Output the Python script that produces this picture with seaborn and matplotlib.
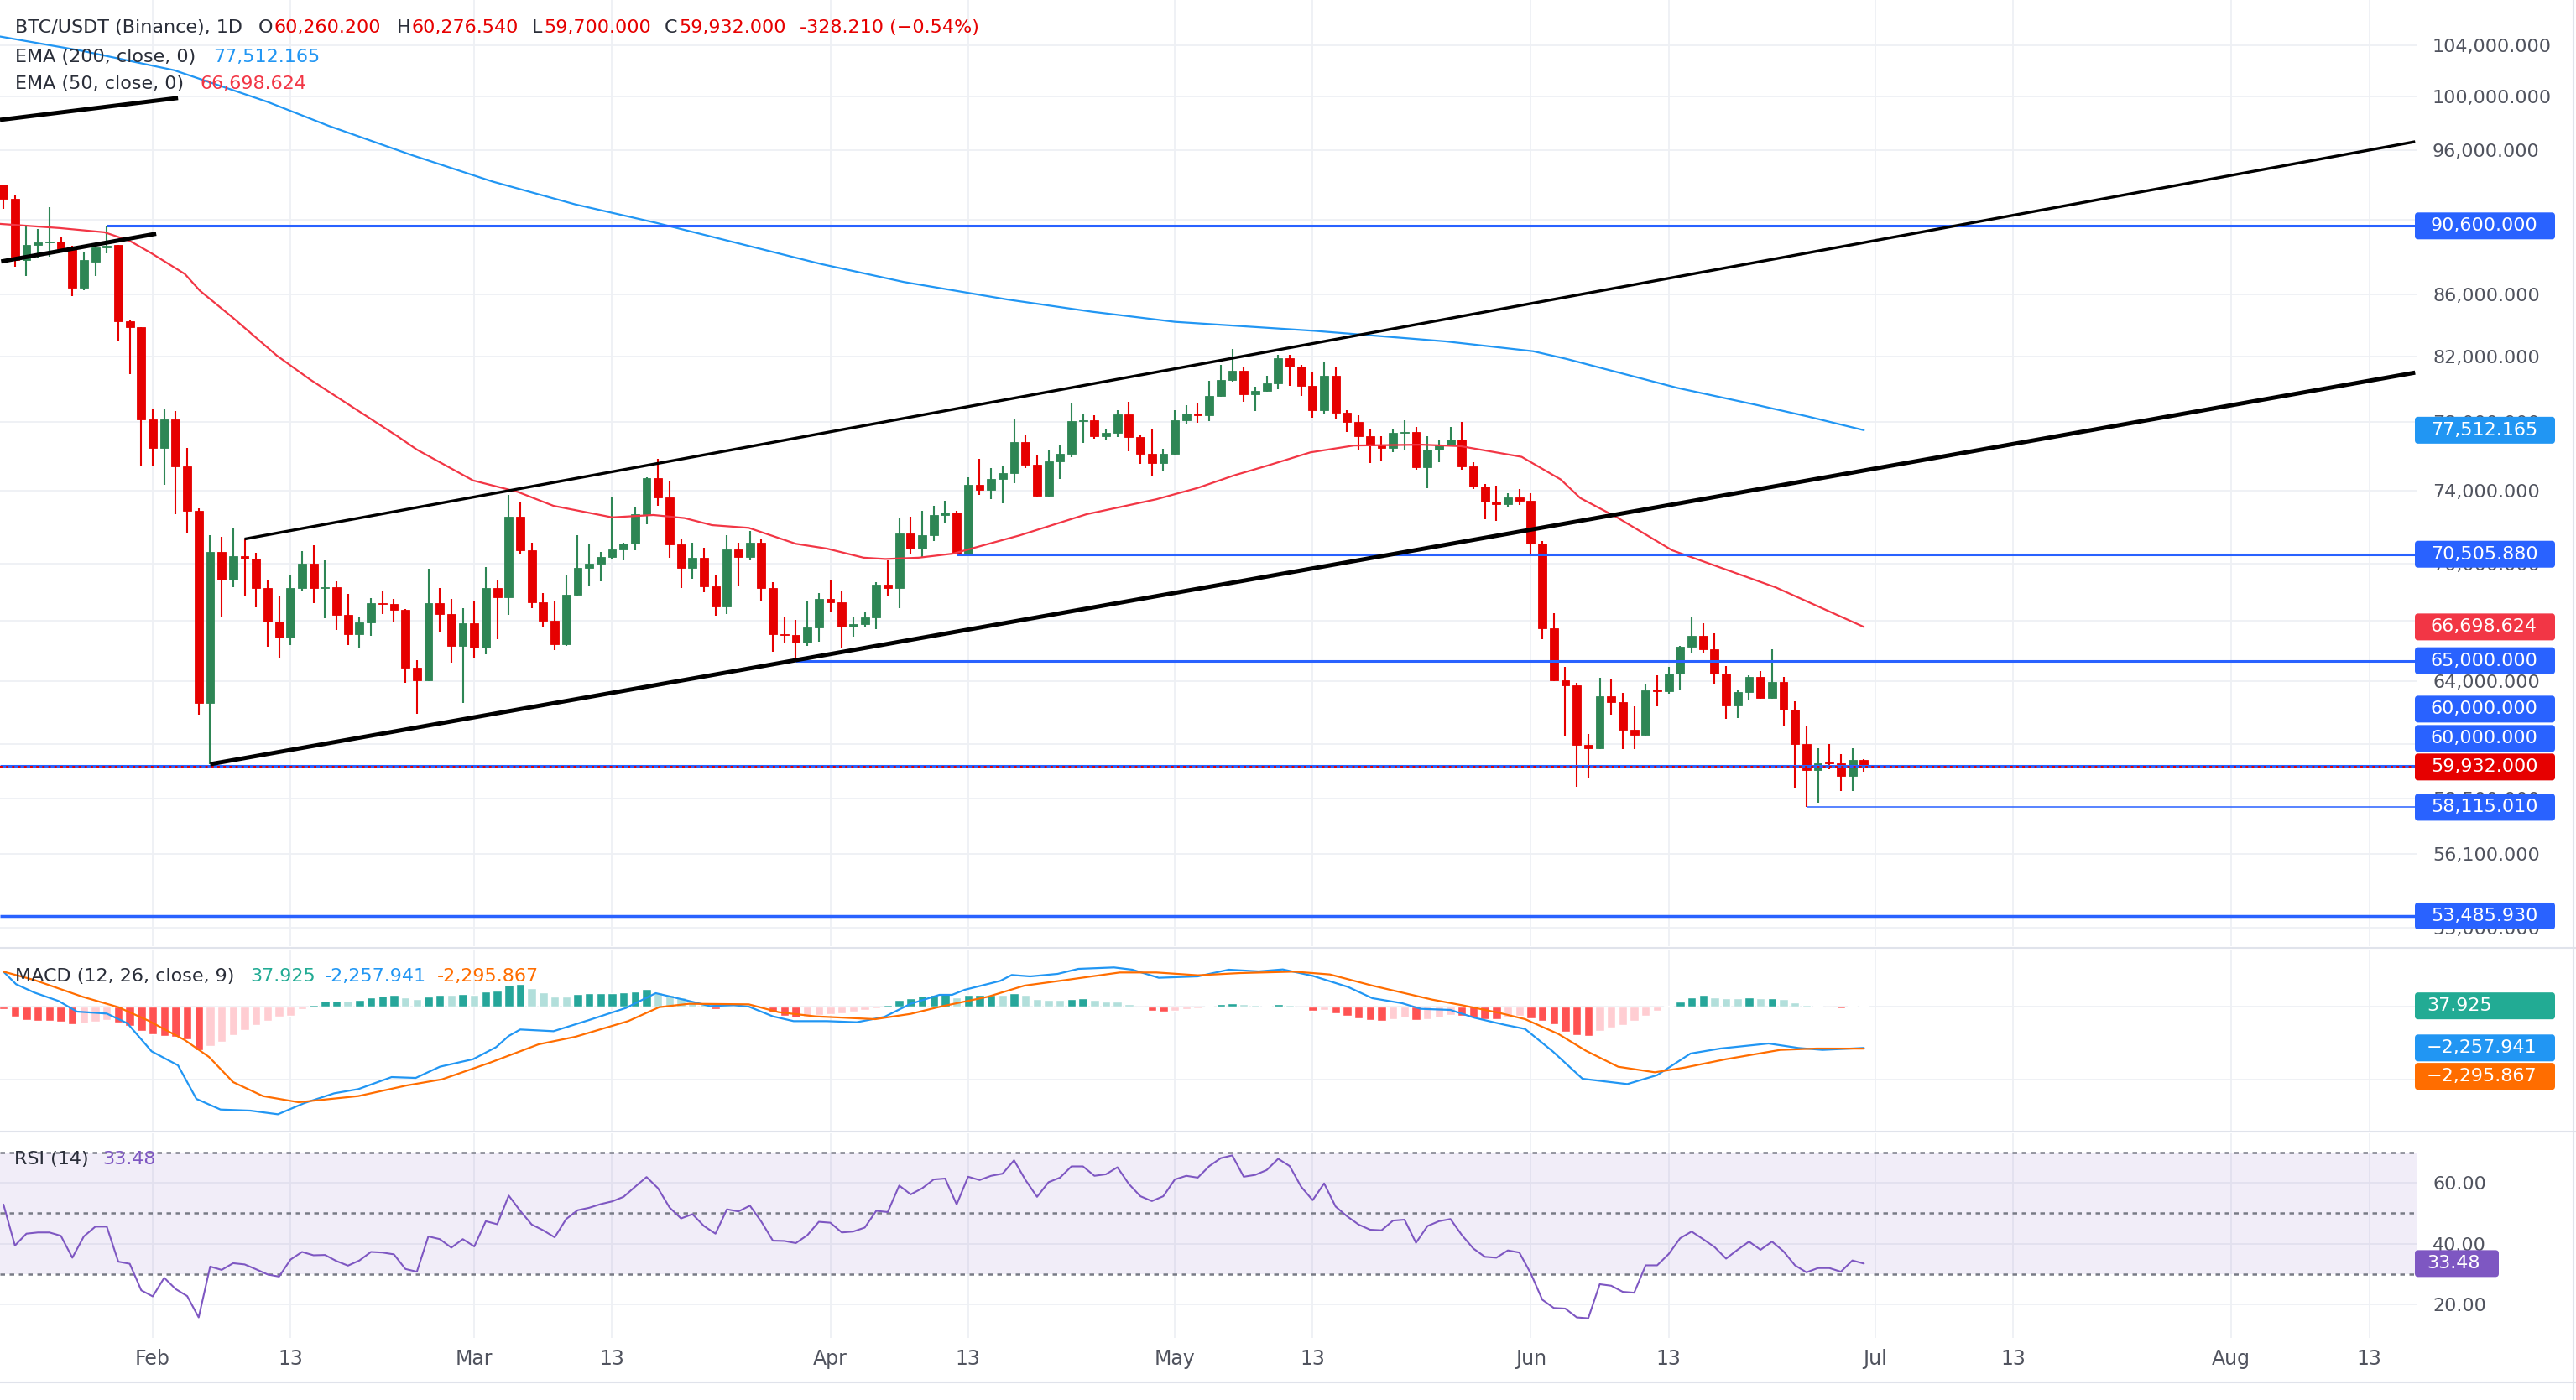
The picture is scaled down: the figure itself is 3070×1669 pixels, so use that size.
import numpy as np
import pandas as pd
import matplotlib
matplotlib.use("Agg")
import matplotlib.pyplot as plt
import seaborn as sns
from matplotlib.patches import FancyBboxPatch
from matplotlib.lines import Line2D
from matplotlib.transforms import IdentityTransform
from matplotlib.ticker import NullLocator

# daily BTC/USDT candles, 2026-01-19 .. 2026-06-30 (day index 0..162)
opens = [93520, 92490, 88260, 89300, 89440, 89500, 89100, 86420, 88170, 89100,
         89270, 84230, 83860, 78150, 76460, 78150, 75380, 72900, 62920, 70650,
         69130, 70390, 70250, 68700, 66960, 66180, 68700, 69990, 68700, 68770,
         67310, 66330, 66920, 67910, 67880, 67560, 64650, 64030, 67910, 67370,
         65750, 66880, 65670, 68720, 68220, 72560, 70740, 67960, 67000, 65830,
         68340, 69790, 70010, 70360, 70750, 71070, 72680, 74730, 73610, 71050,
         69760, 70330, 68800, 67740, 70770, 70350, 71150, 68700, 66320, 66300,
         65910, 66680, 68140, 67960, 66730, 66840, 67180, 68890, 68700, 71640,
         70830, 71550, 72670, 72780, 70560, 74350, 74080, 74700, 75000, 76820,
         75500, 73740, 75690, 76110, 78030, 78100, 77170, 77370, 78450, 77130,
         76110, 75600, 76140, 78100, 78500, 78400, 79560, 80560, 81120, 79670,
         79890, 80350, 81870, 81380, 80170, 78730, 80780, 78540, 77980, 77180,
         76610, 76490, 77340, 77420, 75340, 76370, 76640, 76980, 75420, 74230,
         73400, 73240, 73640, 73450, 71090, 66630, 64040, 63780, 60950, 60810,
         63250, 62990, 61640, 61420, 63580, 63520, 64350, 65710, 66240, 65580,
         64380, 62830, 63460, 64200, 63190, 63970, 62630, 61000, 59780, 60150,
         60110, 59520, 60260.2]
highs = [93520, 92710, 90620, 90380, 91890, 89820, 89210, 88760, 89380, 90620,
         89270, 84300, 83860, 78800, 78800, 78630, 76480, 73040, 71540, 71470,
         71970, 71310, 70600, 69150, 68310, 69380, 70670, 71000, 70200, 69080,
         68400, 67180, 68190, 68550, 68120, 67600, 65030, 69740, 68720, 68120,
         67660, 68070, 69830, 69120, 73790, 73360, 71120, 68440, 68070, 69380,
         71560, 71030, 70650, 73640, 71150, 73060, 74780, 75850, 74540, 71340,
         71110, 70850, 69400, 71560, 71150, 71770, 71300, 69040, 67180, 67050,
         68050, 68440, 69170, 68530, 67230, 67440, 69040, 70190, 72480, 72570,
         72860, 73140, 73450, 72900, 74780, 75850, 75310, 75380, 78190, 77220,
         76060, 76340, 76620, 79160, 78450, 78400, 77600, 78730, 79220, 77270,
         77620, 76410, 78700, 79000, 79160, 80490, 81470, 82490, 81380, 80140,
         80780, 82120, 82080, 81450, 80990, 81700, 81350, 78700, 78400, 77600,
         77160, 77600, 78080, 77710, 77160, 76980, 77710, 78000, 75650, 74410,
         74310, 73890, 74100, 73890, 71200, 67390, 64700, 63900, 61470, 64160,
         64130, 63430, 62770, 63850, 64300, 64700, 65750, 67180, 66880, 66370,
         64740, 63570, 64280, 64490, 65570, 64210, 63020, 61860, 60810, 61000,
         60540, 60810, 60276.54]
lows = [91800, 87800, 87190, 88450, 88500, 88990, 85850, 86270, 87190, 88700,
        83000, 80900, 75380, 75380, 74330, 72710, 71690, 62370, 60060, 67180,
        68770, 68250, 67720, 65700, 65090, 65800, 68590, 67930, 67160, 66550,
        65800, 65600, 66240, 67370, 66960, 63910, 62410, 63980, 66430, 64920,
        62940, 65100, 65300, 66090, 67320, 70530, 67680, 66720, 65540, 65750,
        68300, 68850, 69080, 70250, 70160, 70730, 72160, 73160, 70330, 68700,
        69180, 68470, 67260, 67350, 68830, 70200, 68060, 65460, 65910, 64950,
        65720, 65940, 67500, 65620, 66200, 66700, 66570, 68250, 67680, 70500,
        70320, 71200, 72220, 70506, 70450, 73780, 73530, 73310, 74450, 75320,
        73700, 73700, 74700, 75950, 76740, 77030, 76940, 77130, 76280, 75560,
        74880, 75100, 76100, 77920, 77970, 78070, 79500, 80440, 79220, 78680,
        79800, 79970, 80170, 79560, 78250, 78450, 78160, 77400, 76330, 75600,
        75700, 76230, 76330, 75190, 74140, 75650, 76560, 75220, 74090, 72430,
        72330, 73050, 73220, 70400, 66090, 64000, 61360, 59040, 59400, 60750,
        62370, 60740, 60740, 61400, 62770, 63380, 63600, 65350, 65350, 63890,
        62190, 62230, 63100, 63150, 63150, 61870, 59010, 58115, 58330, 59820,
        58860, 58860, 59700]
closes = [92490, 88260, 89300, 89440, 89500, 89020, 86420, 88260, 89100, 89210,
          84230, 83860, 78150, 76460, 78150, 75380, 72900, 62920, 70650, 69130,
          70390, 70250, 68700, 66960, 66180, 68700, 69990, 68700, 68770, 67310,
          66330, 66920, 67910, 67880, 67560, 64650, 64030, 67910, 67370, 65750,
          66880, 65670, 68720, 68220, 72560, 70740, 67960, 67000, 65830, 68340,
          69790, 70010, 70360, 70750, 71070, 72680, 74730, 73610, 71050, 69760,
          70330, 68800, 67740, 70770, 70350, 71150, 68700, 66320, 66300, 65910,
          66680, 68140, 67960, 66730, 66840, 67180, 68890, 68700, 71640, 70830,
          71550, 72670, 72780, 70560, 74350, 74080, 74700, 75000, 76820, 75500,
          73740, 75690, 76110, 78030, 78100, 77170, 77370, 78450, 77130, 76110,
          75600, 76140, 78100, 78500, 78400, 79560, 80560, 81120, 79670, 79890,
          80350, 81870, 81380, 80170, 78730, 80780, 78540, 77980, 77180, 76610,
          76490, 77340, 77420, 75340, 76370, 76640, 76980, 75420, 74230, 73400,
          73240, 73640, 73450, 71090, 66630, 64040, 63780, 60950, 60810, 63250,
          62990, 61640, 61420, 63550, 63520, 64350, 65710, 66240, 65580, 64380,
          62830, 63460, 64200, 63190, 63970, 62630, 61000, 59780, 60110, 60110,
          59520, 60260, 59932]

# moving averages
ema200_day = [-0.3, 6.85, 14.86, 23.0, 28.3, 35.5, 42.6, 49.8, 56.9, 64.1, 71.2, 78.4, 87.4,
              94.8, 102, 114.2, 125.6, 133.2, 136.1, 145.8, 152.8, 157.1, 162]
ema200_val = [104700, 103560, 102040, 99600, 97800, 95650, 93720, 92100, 90800, 89380, 88000,
              86800, 85650, 84850, 84200, 83620, 82950, 82330, 81850, 80050, 79000, 78330, 77512]
ema50_day = [-0.3, 4.9, 8.8, 11, 12.9, 15.8, 17.1, 20, 23.8, 26.7, 30.2, 34.3, 36, 40.9, 44.8,
             47.9, 53, 56.6, 59.3, 61.7, 64.9, 69, 71.7, 74.9, 76.8, 79.7, 82.7, 85.8, 88.5,
             94.3, 100.4, 104, 107.2, 110.1, 113.8, 117.6, 123.5, 126.9, 132.2, 135.6, 137.3,
             140.5, 145.3, 154.3, 162]
ema50_val = [90740, 90450, 90160, 89570, 88720, 87330, 86230, 84450, 82060, 80570, 78980, 77160,
             76370, 74590, 73940, 73160, 72520, 72650, 72480, 72090, 71940, 71070, 70810, 70320,
             70250, 70320, 70540, 71070, 71530, 72690, 73530, 74170, 74890, 75450, 76210, 76610,
             76660, 76570, 75950, 74650, 73600, 72520, 70720, 68750, 66699]

# MACD (12, 26, 9)
macd_day = [0, 1.1, 2.7, 4.8, 6.4, 9, 10.8, 12.9, 15.2, 16.8, 18.9, 21.5, 23.9, 26.2, 28.8, 30.9,
            33.8, 35.9, 38, 40.9, 42.9, 44, 45, 47.9, 51, 54.2, 56.8, 59.2, 61.5, 63.6, 64.9, 67,
            68.8, 71.7, 74.3, 76.7, 79, 81.5, 82.6, 83.7, 86.8, 87.8, 89.4, 91.8, 93.6, 96.7, 98.3,
            100.6, 104, 106.7, 109.3, 111.4, 114, 117.1, 119.2, 121.8, 123.4, 126, 128.1, 130.7,
            132.5, 134.9, 137.5, 141.4, 144, 146.9, 149.5, 153.7, 156.3, 158.4, 162]
macd_val = [1909, 1222, 764, 305, -275, -382, -916, -2443, -3207, -5039, -5619, -5680, -5879,
            -5268, -4734, -4505, -3848, -3894, -3283, -2871, -2214, -1603, -1252, -1344, -733, -76,
            733, 382, 31, 76, 0, -534, -794, -794, -855, -565, 153, 641, 641, 916, 1405, 1726, 1649,
            1787, 2061, 2138, 2016, 1573, 1649, 2016, 1924, 2031, 1680, 1069, 458, 183, -122, -183,
            -611, -992, -1222, -2443, -3940, -4230, -3741, -2565, -2290, -2016, -2260, -2367, -2258]
signal_day = [0, 2.7, 6.9, 10, 12.6, 15.8, 17.9, 20, 22.6, 25.7, 30.9, 35.1, 38.2, 42.4, 46.6,
              49.8, 54.4, 57.1, 59.7, 64.9, 67.5, 70.7, 75.9, 79, 81.6, 85.7, 88.9, 92.5, 97.2,
              100.4, 104, 107.7, 112.4, 115.5, 119.2, 124.4, 127, 130.2, 132.5, 135.4, 137.8,
              140.6, 143.8, 146.4, 150, 154.7, 157.9, 162]
signal_val = [1909, 1451, 534, -31, -763, -1832, -2749, -4123, -4886, -5222, -4886, -4306, -3970,
              -3054, -2061, -1649, -794, -31, 153, 122, -305, -534, -687, -397, 0, 534, 1145, 1451,
              1863, 1863, 1710, 1832, 1909, 1756, 1145, 382, 76, -336, -687, -1496, -2413, -3283,
              -3588, -3329, -2871, -2367, -2290, -2296]
hist = [-122, -534, -718, -790, -800, -810, -947, -916, -840, -718,
        -886, -1069, -1328, -1500, -1603, -1650, -1771, -2367, -2138, -1909,
        -1573, -1267, -1023, -794, -534, -489, -153, 76, 305, 336,
        320, 382, 504, 611, 657, 504, 412, 565, 641, 630,
        687, 641, 809, 886, 1191, 1220, 993, 794, 565, 550,
        687, 718, 733, 740, 764, 809, 962, 764, 641, 489,
        275, 153, -153, -61, -61, 15, -61, -305, -489, -580,
        -534, -458, -397, -351, -275, -183, -76, 76, 382, 458,
        580, 657, 687, 489, 641, 650, 660, 641, 733, 641,
        412, 366, 360, 412, 458, 366, 275, 270, 137, -61,
        -214, -275, -214, -122, -110, 46, 137, 183, 137, 92,
        46, 137, 92, -61, -214, -200, -366, -519, -641, -733,
        -764, -672, -611, -733, -672, -580, -440, -489, -580, -672,
        -690, -580, -519, -641, -794, -947, -1374, -1557, -1588, -1343,
        -1145, -992, -794, -519, -244, 46, 275, 504, 641, 504,
        458, 440, 489, 458, 470, 412, 229, 76, 46, -61,
        -70, 46, 38]

# RSI (14)
rsi = [52.9, 39.4, 43.3, 43.7, 43.7, 42.6, 35.4, 42.4, 45.6, 45.6,
       34.1, 33.4, 24.7, 22.7, 28.8, 25.1, 22.8, 15.8, 32.5, 31.4,
       33.6, 33.2, 31.6, 29.9, 29.2, 34.8, 37.3, 36.2, 36.3, 34.3,
       32.8, 34.5, 37.3, 37.1, 36.5, 31.7, 30.8, 42.4, 41.5, 38.7,
       41.5, 39.1, 47.4, 46.4, 55.8, 50.8, 46.3, 44.4, 42.1, 48.1,
       51.0, 51.8, 53.0, 53.9, 55.4, 58.7, 61.9, 58.2, 51.9, 48.3,
       49.7, 45.8, 43.3, 51.3, 50.6, 52.5, 47.2, 41.0, 40.9, 40.2,
       42.8, 47.2, 46.9, 43.7, 44.0, 45.3, 50.8, 50.4, 59.1, 56.2,
       58.2, 61.1, 61.4, 52.9, 62.0, 60.9, 62.3, 63.0, 67.4, 60.9,
       55.4, 60.2, 61.7, 65.4, 65.4, 62.3, 62.8, 65.1, 59.6, 55.6,
       54.0, 55.6, 61.1, 62.3, 61.7, 65.5, 68.1, 69.0, 62.0, 62.6,
       64.2, 67.9, 65.5, 58.7, 54.3, 59.8, 52.2, 49.0, 46.3, 44.6,
       44.4, 47.6, 47.9, 40.3, 45.8, 47.4, 48.1, 42.8, 38.4, 35.7,
       35.4, 37.8, 37.1, 30.2, 21.6, 18.9, 18.7, 15.8, 15.5, 26.7,
       26.2, 24.2, 23.9, 32.9, 32.9, 36.6, 41.8, 44.0, 41.5, 38.9,
       35.1, 38.0, 40.7, 38.0, 40.7, 37.5, 32.9, 30.6, 32.0, 32.0,
       30.8, 34.5, 33.48]

# drawings: trend lines (day0, price0, day1, price1) and horizontal levels
trend_lines = [(-0.3, 98240, 15.2, 99900), (-0.2, 88170, 13.3, 90060),
               (21.0, 71330, 210.0, 96620), (18.0, 60060, 210.0, 80997)]
trend_widths = [3.6, 3.6, 2.4, 3.6]
levels = [90600, 70505.88, 65000, 60000, 58115.01, 53485.93]
level_from = [9, 83, 69, -0.3, 157, -0.3]
level_widths = [2.2, 2.2, 2.2, 2.2, 1.1, 2.5]
last_price = 59932

x_ticks = [13, 25, 41, 53, 72, 84, 102, 114, 133, 145, 163, 175, 194, 206]
x_labels = ['Feb', '13', 'Mar', '13', 'Apr', '13', 'May', '13', 'Jun', '13', 'Jul', '13', 'Aug', '13']
price_ticks = [53000, 56100, 58500, 61000, 64000, 67000, 70000, 74000, 78000, 82000,
               86000, 91000, 96000, 100000, 104000]

GREEN, RED = '#2e8655', '#e60000'
GRID = '#eef0f4'
AXTXT = '#50535e'
TXT = '#2a2e39'
X0, X1 = -0.3, 210.2

W, H = 3070, 1669
sns.set_theme(style="white")
plt.rcParams['font.family'] = ['DejaVu Sans']

fig = plt.figure(figsize=(W / 100, H / 100), dpi=100)
fig.patch.set_facecolor('white')


def box(left, top, right, bottom):
    return [left / W, 1 - bottom / H, (right - left) / W, (bottom - top) / H]


ax = fig.add_axes(box(0, 0, 2881, 1128))
ax_macd = fig.add_axes(box(0, 1132, 2881, 1348))
ax_rsi = fig.add_axes(box(0, 1351, 2881, 1595))

for a in (ax, ax_macd, ax_rsi):
    for s in a.spines.values():
        s.set_visible(False)
    a.set_facecolor('white')
    a.set_xlim(X0, X1)
    a.set_xticks(x_ticks)
    a.grid(True, color=GRID, lw=1.3)
    a.set_axisbelow(True)
    a.yaxis.tick_right()
    a.tick_params(length=0)
    a.set_xlabel('')
    a.set_ylabel('')

# ---- price pane ----
ax.set_yscale('log')
ax.set_ylim(52266, 107660)
ax.yaxis.set_minor_locator(NullLocator())
ax.set_yticks(price_ticks)
ax.set_yticklabels([f"{v:,.3f}" for v in price_ticks])
ax.tick_params(axis='y', labelsize=16, labelcolor=AXTXT, pad=13)
ax.tick_params(axis='x', labelbottom=False)

df = pd.DataFrame({'open': opens, 'high': highs, 'low': lows, 'close': closes})
df['day'] = np.arange(len(df))
cols = np.where(df['close'] >= df['open'], GREEN, RED)
ax.vlines(df['day'], df['low'], df['high'], colors=cols, lw=1.5, zorder=3)
ax.bar(df['day'], (df['close'] - df['open']).abs(), bottom=df[['open', 'close']].min(axis=1),
       width=0.72, color=cols, edgecolor=cols, linewidth=0.6, zorder=3)

sns.lineplot(x=ema200_day, y=ema200_val, ax=ax, color='#2196f3', lw=1.6, zorder=4)
sns.lineplot(x=ema50_day, y=ema50_val, ax=ax, color='#f23645', lw=1.6, zorder=4)

for lv, start, lw in zip(levels, level_from, level_widths):
    ax.hlines(lv, start, X1, color='#2962ff', lw=lw, zorder=5)
ax.axhline(last_price, color=RED, lw=1.4, ls=(0, (1.5, 2.2)), zorder=5)
for (d0, p0, d1, p1), lw in zip(trend_lines, trend_widths):
    ax.plot([d0, d1], [p0, p1], color='black', lw=lw, solid_capstyle='butt', zorder=6)
ax.set_xlim(X0, X1)
ax.set_ylim(52266, 107660)

# ---- MACD pane ----
hcols = []
prev = 0
for h in hist:
    if h >= 0:
        hcols.append('#26a69a' if h > prev else '#b2dfdb')
    else:
        hcols.append('#ffcdd2' if h > prev else '#ff5252')
    prev = h
ax_macd.bar(np.arange(len(hist)), hist, width=0.76, color=hcols, zorder=2)
sns.lineplot(x=macd_day, y=macd_val, ax=ax_macd, color='#2196f3', lw=1.6, zorder=3)
sns.lineplot(x=signal_day, y=signal_val, ax=ax_macd, color='#ff6d00', lw=1.6, zorder=3)
ax_macd.set_ylim(-6778, 3114)
ax_macd.set_yticks([-4000, 0])
ax_macd.tick_params(labelright=False, labelbottom=False)
ax_macd.set_xlim(X0, X1)

# ---- RSI pane ----
ax_rsi.axhspan(30, 70, color='#7e57c2', alpha=0.1, lw=0, zorder=1)
for lvl in (70, 50, 30):
    ax_rsi.axhline(lvl, color='#787b86', lw=1.8, ls=(0, (2.2, 2.2)), zorder=2)
sns.lineplot(x=np.arange(len(rsi)), y=rsi, ax=ax_rsi, color='#7e57c2', lw=1.5, zorder=3)
ax_rsi.set_ylim(9.06, 76.28)
ax_rsi.set_xlim(X0, X1)
ax_rsi.set_yticks([20, 40, 60])
ax_rsi.set_yticklabels(['20.00', '40.00', '60.00'])
ax_rsi.tick_params(axis='y', labelsize=16, labelcolor=AXTXT, pad=13)
ax_rsi.set_xticklabels(x_labels)
ax_rsi.tick_params(axis='x', labelsize=17, labelcolor=AXTXT, pad=9.5)

# ---- overlay: price tags, legends, separators (pixel coordinates) ----
PIX = IdentityTransform()


def ypix(a, v):
    return a.transData.transform((0, v))[1]


def tag(a, v, text, color, dy=0, x0=2878, x1=3045, tx=2897):
    yc = ypix(a, v) + dy
    fig.add_artist(FancyBboxPatch((x0, yc - 16), x1 - x0, 32, boxstyle="round,pad=0,rounding_size=4",
                                  transform=PIX, facecolor=color, edgecolor='none', zorder=5))
    fig.text(tx, yc, text, transform=PIX, color='white', fontsize=16, va='center', ha='left', zorder=6)


tag(ax, 90600, "90,600.000", '#2962ff')
tag(ax, 77512.165, "77,512.165", '#2196f3')
tag(ax, 70505.88, "70,505.880", '#2962ff')
tag(ax, 66698.624, "66,698.624", '#f23645')
tag(ax, 65000, "65,000.000", '#2962ff')
tag(ax, last_price, "60,000.000", '#2962ff', dy=69)
tag(ax, last_price, "60,000.000", '#2962ff', dy=34)
tag(ax, last_price, "59,932.000", RED)
tag(ax, 58115.01, "58,115.010", '#2962ff')
tag(ax, 53485.93, "53,485.930", '#2962ff')
tag(ax_macd, 37.925, "37.925", '#22ab94', tx=2892)
tag(ax_macd, -2257.941, "\u22122,257.941", '#2196f3', tx=2892)
tag(ax_macd, -2295.867, "\u22122,295.867", '#ff6d00', dy=-33, tx=2892)
tag(ax_rsi, 33.48, "33.48", '#7e57c2', x1=2978, tx=2892)


def ftext(x, ytop, s, color=TXT, size=16):
    fig.text(x, H - ytop, s, transform=PIX, color=color, fontsize=size, va='center', ha='left', zorder=7)


ftext(17.5, 33, "BTC/USDT (Binance), 1D")
for lx, vx, letter, val in [(308, 327, 'O', '60,260.200'), (473, 490, 'H', '60,276.540'),
                            (634, 648, 'L', '59,700.000'), (792, 809, 'C', '59,932.000')]:
    ftext(lx, 33, letter)
    ftext(vx, 33, val, RED)
ftext(953, 33, "-328.210 (\u22120.54%)", RED)
ftext(17.5, 68, "EMA (200, close, 0)")
ftext(254, 68, "77,512.165", '#2196f3')
ftext(17.5, 100, "EMA (50, close, 0)")
ftext(239, 100, "66,698.624", '#f23645')
ftext(18, 1164, "MACD (12, 26, close, 9)")
ftext(298, 1164, "37.925", '#22ab94')
ftext(387, 1164, "-2,257.941", '#2196f3')
ftext(521, 1164, "-2,295.867", '#ff6d00')
ftext(17, 1382, "RSI (14)")
ftext(122, 1382, "33.48", '#7e57c2')

for ysep in (1130, 1349, 1648):
    fig.add_artist(Line2D([0, W], [H - ysep, H - ysep], transform=PIX, color='#e0e3eb', lw=1.5))
fig.add_artist(Line2D([W - 3, W - 3], [0, H], transform=PIX, color='#e0e3eb', lw=1.5))

fig.savefig("out.png", dpi=100, facecolor='white')
